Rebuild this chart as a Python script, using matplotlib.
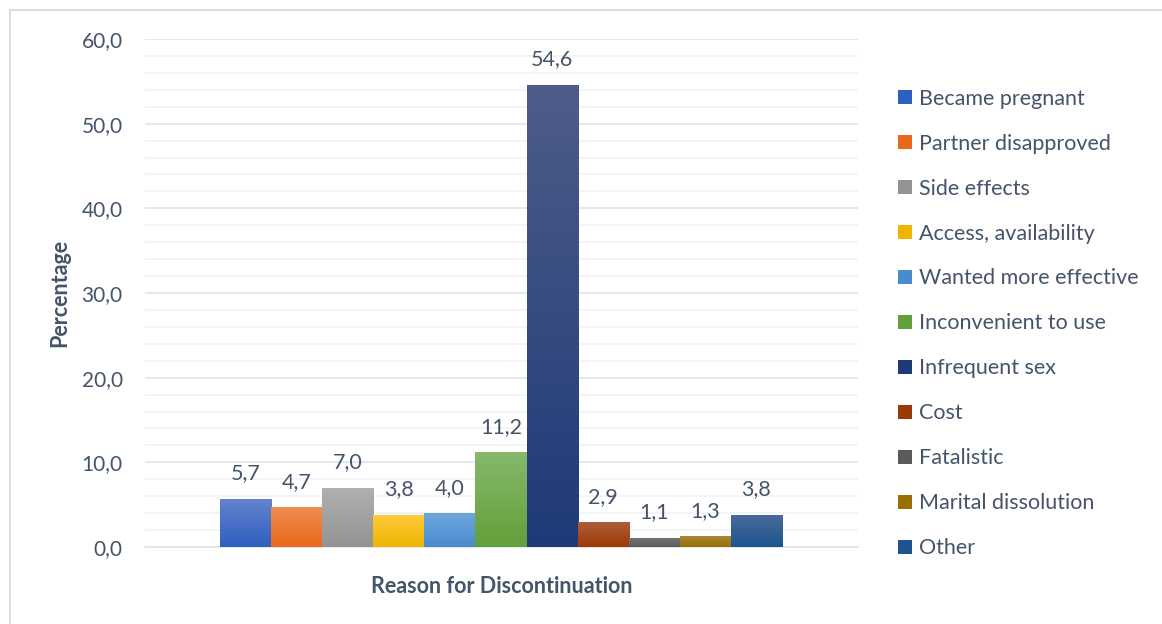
import numpy as np
import matplotlib.pyplot as plt
from matplotlib.colors import LinearSegmentedColormap
from matplotlib.patches import Rectangle

# reasons for discontinuation and their shares (%)
reasons = ['Became pregnant', 'Partner disapproved', 'Side effects',
           'Access, availability', 'Wanted more effective', 'Inconvenient to use',
           'Infrequent sex', 'Cost', 'Fatalistic', 'Marital dissolution', 'Other']
values = [5.7, 4.7, 7.0, 3.8, 4.0, 11.2, 54.6, 2.9, 1.1, 1.3, 3.8]

# gradient fill per bar: (top colour, bottom colour)
tops = ['#6584cd', '#f08d52', '#b0b0b0', '#ffcb3c', '#70a7dd', '#86b86b',
        '#4f5d88', '#ae5d3b', '#777777', '#a98a3c', '#4a6c98']
bottoms = ['#2f5fbf', '#e8691b', '#939393', '#eeb600', '#4a8bcd', '#62a03a',
           '#1e3a78', '#9a3b05', '#5a5a5a', '#977000', '#1d548f']

text_col = '#44546a'
plt.rcParams['font.family'] = ['Lato', 'DejaVu Sans']

fig = plt.figure(figsize=(11.62, 6.24), dpi=100)
fig.patches.append(Rectangle((10 / 1162, -0.05), 1.1, 1.05 - 10 / 624,
                             transform=fig.transFigure, fill=False,
                             edgecolor='#d9dde6', linewidth=1.5))
ax = fig.add_axes([145 / 1162, 77 / 624, 713 / 1162, 508 / 624])

x = np.arange(len(values))
bars = ax.bar(x, values, width=1.0, color=tops, linewidth=0, zorder=2)

# paint each bar with a vertical gradient
grad = np.linspace(0, 1, 256).reshape(-1, 1)
for b, c_top, c_bot in zip(bars, tops, bottoms):
    cmap = LinearSegmentedColormap.from_list('g', [c_bot, c_top])
    x0, w, h = b.get_x(), b.get_width(), b.get_height()
    im = ax.imshow(grad, cmap=cmap, origin='lower', aspect='auto',
                   extent=(x0, x0 + w, 0, h), zorder=3)
    im.set_clip_path(b)

for xi, v in zip(x, values):
    ax.annotate(f'{v:.1f}'.replace('.', ','), (xi, v), xytext=(0, 11),
                textcoords='offset points', ha='center', va='bottom',
                fontsize=15.5, color=text_col)

ax.set_xlim(-1.97, 11.99)
ax.set_ylim(0, 60)
ax.set_yticks(np.arange(0, 61, 10))
ax.set_yticklabels([f'{t:.1f}'.replace('.', ',') for t in np.arange(0, 61, 10)])
ax.set_yticks(np.arange(0, 61, 2), minor=True)
ax.grid(axis='y', which='major', color='#dfe3ea', linewidth=1.2, zorder=0)
ax.grid(axis='y', which='minor', color='#f0f2f5', linewidth=1.2, zorder=0)
ax.set_axisbelow(True)
ax.set_xticks([])
for s in ['top', 'right', 'left']:
    ax.spines[s].set_visible(False)
ax.spines['bottom'].set_color('#dfe3ea')
ax.spines['bottom'].set_linewidth(1.2)
ax.tick_params(axis='y', which='both', length=0, pad=16, labelsize=15,
               labelcolor=text_col)

ax.set_ylabel('Percentage', fontsize=15.5, fontweight='bold', color=text_col,
              labelpad=8)
ax.set_xlabel('Reason for Discontinuation', fontsize=15.5, fontweight='bold',
              color=text_col, labelpad=21)

handles = [Rectangle((0, 0), 1, 1, facecolor=c) for c in bottoms]
fig.legend(handles, reasons, loc='upper left',
           bbox_to_anchor=(889 / 1162, 1 - 80 / 624), frameon=False,
           fontsize=15.5, labelcolor=text_col, handlelength=0.65,
           handleheight=0.65, handletextpad=0.35, labelspacing=1.16,
           borderaxespad=0)

fig.savefig('out.png', dpi=100, facecolor='white')
